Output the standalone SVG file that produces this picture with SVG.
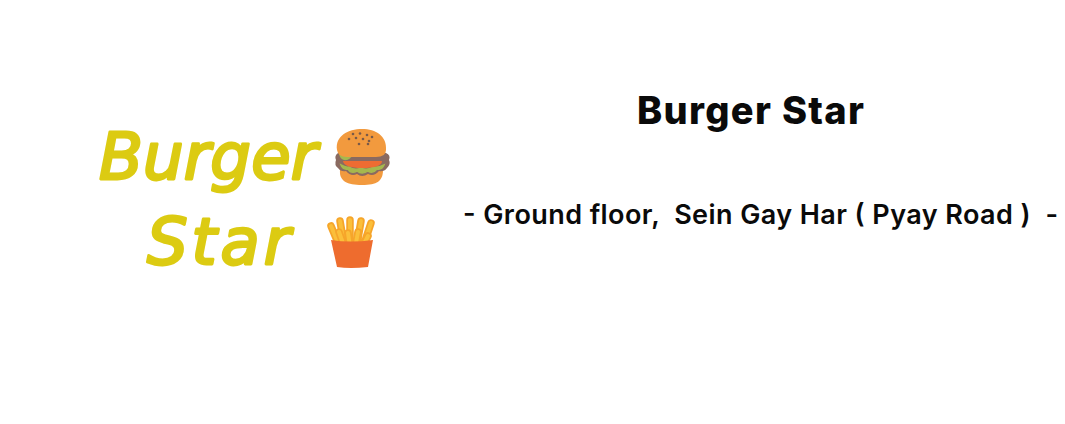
<svg xmlns="http://www.w3.org/2000/svg" width="1065" height="424" viewBox="0 0 1065 424">
<defs>
<g id="s-back"><path d="M331 226L341 250M340 221L345 250M350 220V250M361 221L356 250M371 223L362 250"/></g>
<g id="s-front"><path d="M339 232L346 252M348 233L351 254M358 232L354 254M368 236L361 250"/></g>
</defs>
<style>
.logo{font-family:"DejaVu Sans","Liberation Sans",sans-serif;font-style:oblique;font-size:64px;fill:#dccb12;stroke:#dccb12;stroke-width:2.8px;stroke-linejoin:round}
.t{font-family:"Inter","Liberation Sans",sans-serif;fill:#0a0a0a}
.fo{stroke:#f6a52a;stroke-width:7.5px;stroke-linecap:round;fill:none}
.fi{stroke:#fbbf3a;stroke-width:4px;stroke-linecap:round;fill:none}
</style>
<rect width="1065" height="424" fill="#fff"/>
<g id="logo-text">
<text class="logo" x="99" y="179" textLength="218" lengthAdjust="spacing">Burger</text>
<text class="logo" x="147" y="264" textLength="143" lengthAdjust="spacing">Star</text>
</g>
<g id="burger">
<path d="M340 170C339 181 347 185 362 185C377 185 383 181 383 170Z" fill="#f29a3e"/>
<path d="M338 153Q334 156 336 160Q334 165 338 168Q341 172 346 171Q351 177 357 174Q362 178 368 174Q374 177 379 171Q384 172 387 168Q391 164 389 160Q391 155 386 153Z" fill="#8a6a60"/>
<path d="M341 165Q346 168 349 167Q355 171 361 168Q367 171 373 167Q378 168 384 165Q382 170 377 169Q373 174 368 171Q362 175 357 171Q351 174 348 169Q343 170 341 165Z" fill="#a5b84e" stroke="#a5b84e" stroke-width="1.500"/>
<path d="M343 161H382Q382 168 362 168Q344 168 343 161Z" fill="#ee6c32"/>
<path d="M339 154L353 154Q350 161 344 160Q340 159 339 154Z" fill="#a5b84e"/>
<path d="M337 150C335 136 348 129 362 129C376 129 387 136 386 150Q386 157 376 157H347Q338 157 337 150Z" fill="#f29a3e"/>
<g fill="#7a5a48"><circle cx="353" cy="134" r="1.300"/><circle cx="360" cy="133.500" r="1.300"/><circle cx="367" cy="135" r="1.300"/><circle cx="372" cy="137" r="1.300"/><circle cx="349" cy="139" r="1.300"/><circle cx="356" cy="138" r="1.300"/><circle cx="363" cy="139" r="1.300"/><circle cx="369" cy="141" r="1.300"/><circle cx="359" cy="144" r="1.300"/><circle cx="368" cy="144" r="1.300"/></g>
</g>
<g id="fries">
<use href="#s-back" class="fo"/>
<use href="#s-back" class="fi"/>
<use href="#s-front" class="fo"/>
<use href="#s-front" class="fi"/>
<path d="M331 240Q350 243 373 240L368 267Q350 269 337 267Z" fill="#ee6c2e"/>
</g>
<g id="title">
<text class="t" x="637" y="124" font-size="38" font-weight="800" textLength="227" lengthAdjust="spacing">Burger Star</text>
</g>
<g id="subtitle">
<text class="t" x="463" y="224" font-size="27" font-weight="600" textLength="595" lengthAdjust="spacing" xml:space="preserve">- Ground floor,  Sein Gay Har ( Pyay Road )  -</text>
</g>
</svg>
